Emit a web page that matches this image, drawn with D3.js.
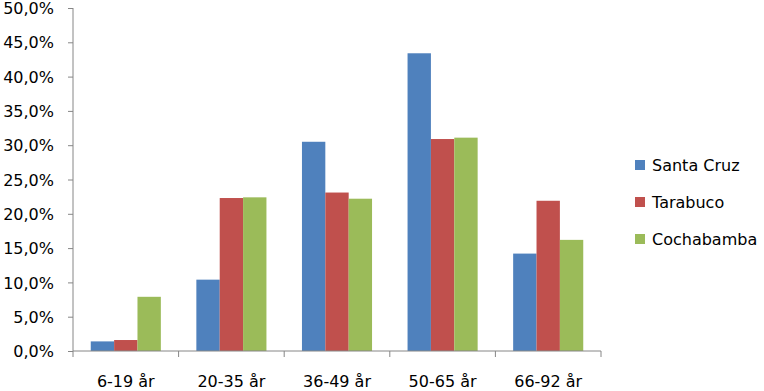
<!DOCTYPE html>
<html>
<head>
<meta charset="utf-8">
<script src="https://cdn.jsdelivr.net/npm/d3@7"></script>
<style>
  body { margin: 0; background: #fff; }
  svg text { font-family: "DejaVu Sans", Verdana, sans-serif; fill: #000; }
</style>
</head>
<body>
<div id="chart"></div>
<script>
// age groups and share per town
const categories = ["6-19 år", "20-35 år", "36-49 år", "50-65 år", "66-92 år"];
const series = ["Santa Cruz", "Tarabuco", "Cochabamba"];
const santaCruz = [1.4, 10.4, 30.5, 43.4, 14.2];
const tarabuco = [1.6, 22.3, 23.1, 30.9, 21.9];
const cochabamba = [7.9, 22.4, 22.2, 31.1, 16.2];
const yTicks = [0, 5, 10, 15, 20, 25, 30, 35, 40, 45, 50];
const colors = ["#4F81BD", "#C0504D", "#9BBB59"];

const values = [santaCruz, tarabuco, cochabamba];

const width = 764,
      height = 391,
      margin = ({ top: 8, right: 163, bottom: 40, left: 73 });

let svg = d3.select("#chart")
    .append("svg")
    .attr("width", width)
    .attr("height", height);

let x = d3.scaleBand()
    .domain(categories)
    .range([margin.left, width - margin.right]);

let xs = d3.scaleBand()
    .domain(series)
    .range([0, x.bandwidth()])
    .paddingInner(0)
    .paddingOuter(0.76);

let y = d3.scaleLinear()
    .domain([0, 50])
    .range([height - margin.bottom, margin.top]);

// bars
categories.forEach((c, i) => {
    svg.append("g")
        .selectAll("rect")
        .data(series)
        .join("rect")
        .attr("x", s => x(c) + xs(s))
        .attr("width", xs.bandwidth())
        .attr("y", (s, j) => y(values[j][i]))
        .attr("height", (s, j) => y(0) - y(values[j][i]))
        .attr("fill", (s, j) => colors[j]);
});

// y axis
let yAxis = svg.append("g")
    .attr("transform", `translate(${margin.left},0)`)
    .call(d3.axisLeft(y).tickValues(yTicks).tickSize(5).tickPadding(14)
        .tickFormat(d => d.toFixed(1).replace(".", ",") + "%"));
yAxis.selectAll("line, path").attr("stroke", "#868686");
yAxis.select(".domain").attr("d", `M0,${y(0)}V${y(50)}`);
yAxis.selectAll("text").style("font-size", "16px").attr("dy", "0.35em");

// x axis with ticks between groups
let xAxis = svg.append("g")
    .attr("transform", `translate(0,${y(0)})`);
xAxis.append("line")
    .attr("x1", margin.left).attr("x2", width - margin.right)
    .attr("stroke", "#868686");
xAxis.selectAll(".sep")
    .data(categories.concat(["end"]))
    .join("line")
    .attr("class", "sep")
    .attr("x1", (d, i) => i < categories.length ? x(d) : x.range()[1])
    .attr("x2", (d, i) => i < categories.length ? x(d) : x.range()[1])
    .attr("y1", 0).attr("y2", 6)
    .attr("stroke", "#868686");
xAxis.selectAll(".lab")
    .data(categories)
    .join("text")
    .attr("class", "lab")
    .attr("x", d => x(d) + x.bandwidth() / 2)
    .attr("y", 36)
    .attr("text-anchor", "middle")
    .style("font-size", "16px")
    .text(d => d);

// legend
let legend = svg.append("g")
    .selectAll("g")
    .data(series)
    .join("g")
    .attr("transform", (d, i) => `translate(635,${165 + i * 37})`);
legend.append("rect")
    .attr("x", 0).attr("y", -5)
    .attr("width", 10).attr("height", 10)
    .attr("fill", (d, i) => colors[i]);
legend.append("text")
    .attr("x", 17)
    .attr("dy", "0.35em")
    .style("font-size", "16px")
    .text(d => d);
</script>
</body>
</html>
